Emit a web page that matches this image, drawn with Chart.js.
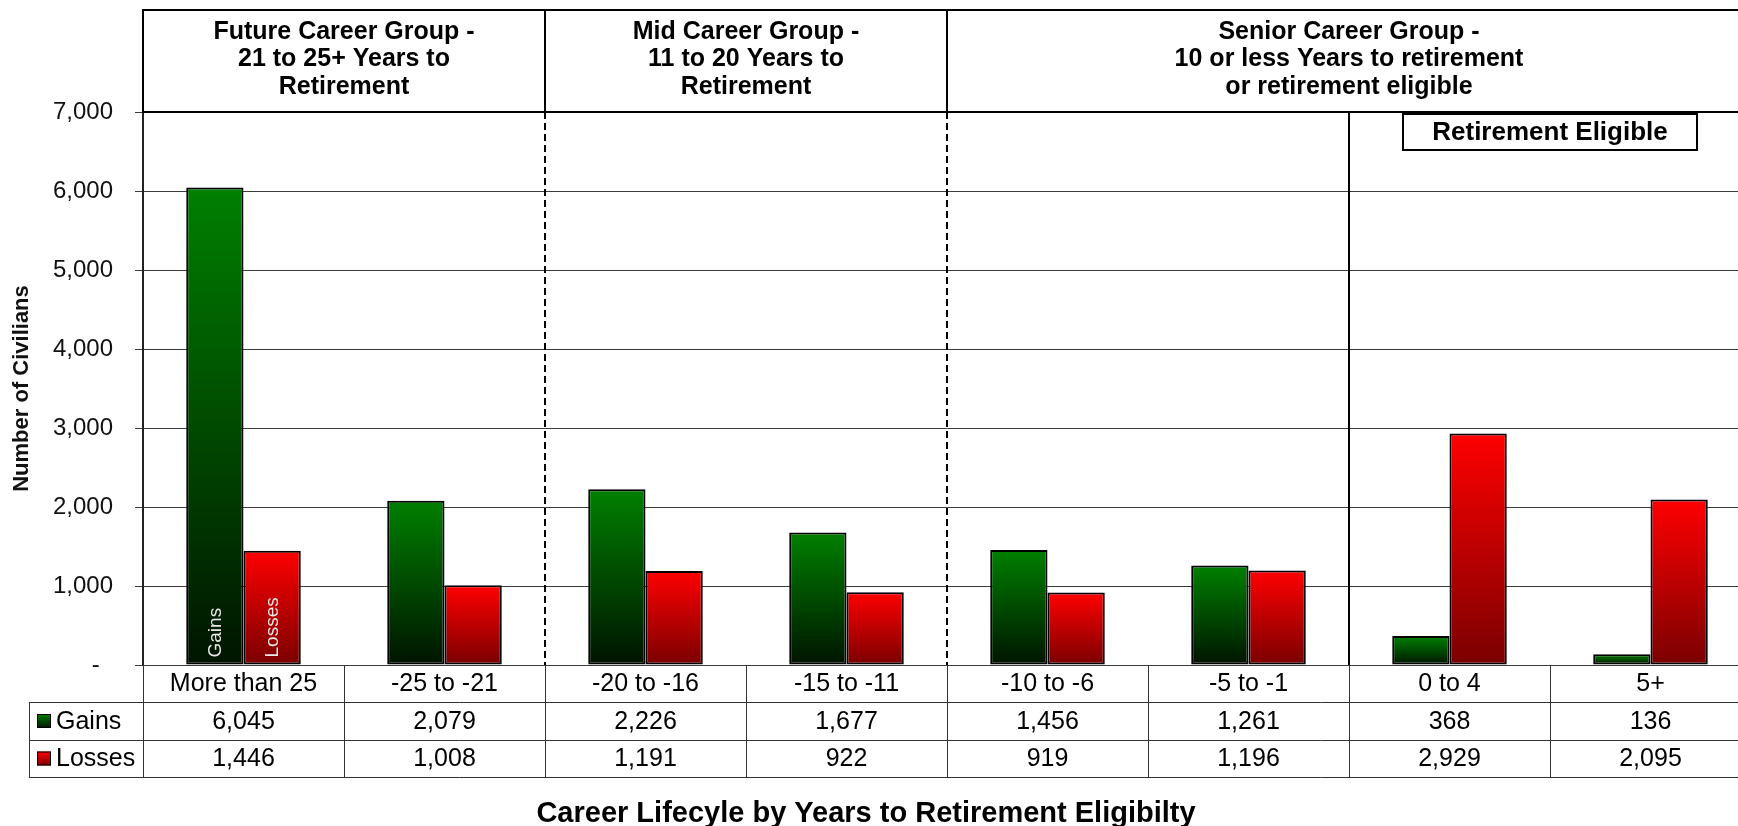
<!DOCTYPE html>
<html>
<head>
<meta charset="utf-8">
<title>Career Lifecycle by Years to Retirement Eligibility</title>
<script src="https://cdn.jsdelivr.net/npm/chart.js@4.4.1/dist/chart.umd.min.js"></script>
<style>
  html, body { margin: 0; padding: 0; background: #fff; overflow: hidden; }
  canvas { display: block; }
</style>
</head>
<body>
<canvas id="careerChart" width="1752" height="826"></canvas>
<script>
const categories = ['More than 25', '-25 to -21', '-20 to -16', '-15 to -11', '-10 to -6', '-5 to -1', '0 to 4', '5+'];
const gains = [6045, 2079, 2226, 1677, 1456, 1261, 368, 136];
const losses = [1446, 1008, 1191, 922, 919, 1196, 2929, 2095];
const seriesNames = ['Gains', 'Losses'];
const yMax = 7000;
const yStep = 1000;

const groupLabels = [
    ['Future Career Group -', '21 to 25+ Years to', 'Retirement'],
    ['Mid Career Group -', '11 to 20 Years to', 'Retirement'],
    ['Senior Career Group -', '10 or less Years to retirement', 'or retirement eligible']
];
const groupEnds = [2, 4, 8];
const eligibleFrom = 6;
const eligibleLabel = 'Retirement Eligible';
const xTitle = 'Career Lifecyle by Years to Retirement Eligibilty';
const yTitle = 'Number of Civilians';

const FONT = '"Liberation Sans", Arial, sans-serif';
Chart.defaults.font.family = FONT;
Chart.defaults.color = '#111';

const greenTop = '#008000', greenBottom = '#001400';
const redTop = '#ff0000', redBottom = '#7a0000';

function barGradient(top, bottom) {
    return function (context) {
        const chart = context.chart;
        if (!chart.chartArea || context.raw === undefined) return top;
        const y = chart.scales.y;
        const g = chart.ctx.createLinearGradient(0, y.getPixelForValue(context.raw), 0, y.getPixelForValue(0));
        g.addColorStop(0, top);
        g.addColorStop(1, bottom);
        return g;
    };
}

function fmt(v) {
    return v.toLocaleString('en-US');
}

// header boxes, separators and the data table under the plot
const careerPlugin = {
    id: 'careerTable',
    afterDraw(chart) {
        const ctx = chart.ctx;
        const x = chart.scales.x;
        const area = chart.chartArea;
        const half = (x.getPixelForValue(1) - x.getPixelForValue(0)) / 2;
        const edge = i => x.getPixelForValue(i) - half;

        ctx.save();

        // dashed group separators + solid retirement line
        ctx.strokeStyle = '#000';
        ctx.lineWidth = 2;
        ctx.setLineDash([7, 4]);
        groupEnds.slice(0, -1).forEach(end => {
            ctx.beginPath();
            ctx.moveTo(edge(end), area.top);
            ctx.lineTo(edge(end), area.bottom);
            ctx.stroke();
        });
        ctx.setLineDash([]);
        ctx.beginPath();
        ctx.moveTo(edge(eligibleFrom), area.top);
        ctx.lineTo(edge(eligibleFrom), area.bottom);
        ctx.stroke();

        // header
        const headTop = 10;
        ctx.strokeRect(area.left, headTop, area.right - area.left, area.top - headTop);
        groupEnds.slice(0, -1).forEach(end => {
            ctx.beginPath();
            ctx.moveTo(edge(end), headTop);
            ctx.lineTo(edge(end), area.top);
            ctx.stroke();
        });
        ctx.fillStyle = '#000';
        ctx.font = 'bold 25px ' + FONT;
        ctx.textAlign = 'center';
        ctx.textBaseline = 'middle';
        groupLabels.forEach((lines, g) => {
            const from = g === 0 ? 0 : groupEnds[g - 1];
            const cx = (edge(from) + edge(groupEnds[g])) / 2;
            lines.forEach((line, k) => ctx.fillText(line, cx, 32 + k * 27.5));
        });

        // retirement eligible box
        const bx = (edge(eligibleFrom) + edge(categories.length)) / 2;
        ctx.fillStyle = '#fff';
        ctx.fillRect(bx - 147, 114, 294, 36);
        ctx.strokeRect(bx - 147, 114, 294, 36);
        ctx.fillStyle = '#000';
        ctx.font = 'bold 26px ' + FONT;
        ctx.fillText(eligibleLabel, bx, 133);

        // labels inside first bars
        ctx.font = '19px ' + FONT;
        ctx.fillStyle = '#e8e8e8';
        ctx.textAlign = 'left';
        [0, 1].forEach(d => {
            const bar = chart.getDatasetMeta(d).data[0];
            ctx.save();
            ctx.translate(bar.x, bar.base - 7);
            ctx.rotate(-Math.PI / 2);
            ctx.fillText(seriesNames[d], 0, 1);
            ctx.restore();
        });

        // data table
        const rows = [area.bottom, area.bottom + 37, area.bottom + 75, area.bottom + 112];
        const legendLeft = 29;
        ctx.strokeStyle = '#333';
        ctx.lineWidth = 1;
        ctx.beginPath();
        for (let r = 1; r < rows.length; r++) {
            ctx.moveTo(legendLeft, rows[r] + 0.5);
            ctx.lineTo(area.right, rows[r] + 0.5);
        }
        ctx.moveTo(legendLeft + 0.5, rows[1]);
        ctx.lineTo(legendLeft + 0.5, rows[3]);
        for (let i = 0; i <= categories.length; i++) {
            ctx.moveTo(Math.round(edge(i)) + 0.5, rows[0]);
            ctx.lineTo(Math.round(edge(i)) + 0.5, rows[3]);
        }
        ctx.stroke();

        ctx.fillStyle = '#000';
        ctx.font = '25px ' + FONT;
        ctx.textAlign = 'center';
        categories.forEach((c, i) => {
            const cx = x.getPixelForValue(i);
            ctx.fillText(c, cx, (rows[0] + rows[1]) / 2 + 1);
            ctx.fillText(fmt(gains[i]), cx, (rows[1] + rows[2]) / 2 + 1);
            ctx.fillText(fmt(losses[i]), cx, (rows[2] + rows[3]) / 2 + 1);
        });

        // legend keys
        ctx.textAlign = 'left';
        [[greenTop, greenBottom], [redTop, redBottom]].forEach((cols, d) => {
            const cy = (rows[d + 1] + rows[d + 2]) / 2;
            const g = ctx.createLinearGradient(0, cy - 7, 0, cy + 7);
            g.addColorStop(0, cols[0]);
            g.addColorStop(1, cols[1]);
            ctx.fillStyle = g;
            ctx.fillRect(37, cy - 7, 14, 14);
            ctx.strokeStyle = '#000';
            ctx.strokeRect(37.5, cy - 6.5, 13, 13);
            ctx.fillStyle = '#000';
            ctx.fillText(seriesNames[d], 56, cy + 1);
        });

        // x axis title
        ctx.font = 'bold 29px ' + FONT;
        ctx.textAlign = 'center';
        ctx.fillText(xTitle, 866, 814);

        ctx.restore();
    }
};

const data = {
    labels: categories,
    datasets: [{
        label: seriesNames[0],
        data: gains,
        backgroundColor: barGradient(greenTop, greenBottom),
        borderColor: '#000',
        borderWidth: 2,
        borderSkipped: false
    }, {
        label: seriesNames[1],
        data: losses,
        backgroundColor: barGradient(redTop, redBottom),
        borderColor: '#000',
        borderWidth: 2,
        borderSkipped: false
    }]
};

const config = {
    type: 'bar',
    data: data,
    options: {
        responsive: false,
        animation: false,
        categoryPercentage: 0.57,
        barPercentage: 1.0,
        layout: {
            padding: { top: 112, bottom: 161, left: 0, right: 1 }
        },
        plugins: {
            legend: { display: false },
            tooltip: { enabled: false }
        },
        scales: {
            x: {
                display: false
            },
            y: {
                min: 0,
                max: yMax,
                ticks: {
                    stepSize: yStep,
                    padding: 22,
                    font: { size: 24 },
                    color: '#111',
                    callback: v => v === 0 ? '-  ' : fmt(v)
                },
                grid: {
                    color: '#3c3c3c',
                    lineWidth: 1,
                    tickLength: 8,
                    tickColor: '#3c3c3c'
                },
                border: { display: true, color: '#222', width: 2 },
                title: {
                    display: true,
                    text: yTitle,
                    font: { size: 22, weight: 'bold' },
                    color: '#111',
                    padding: { top: 9, bottom: 0 }
                },
                afterFit: scale => { scale.width = 143; }
            }
        }
    },
    plugins: [careerPlugin]
};

const careerChart = new Chart(
    document.getElementById('careerChart'),
    config
);
</script>
</body>
</html>
